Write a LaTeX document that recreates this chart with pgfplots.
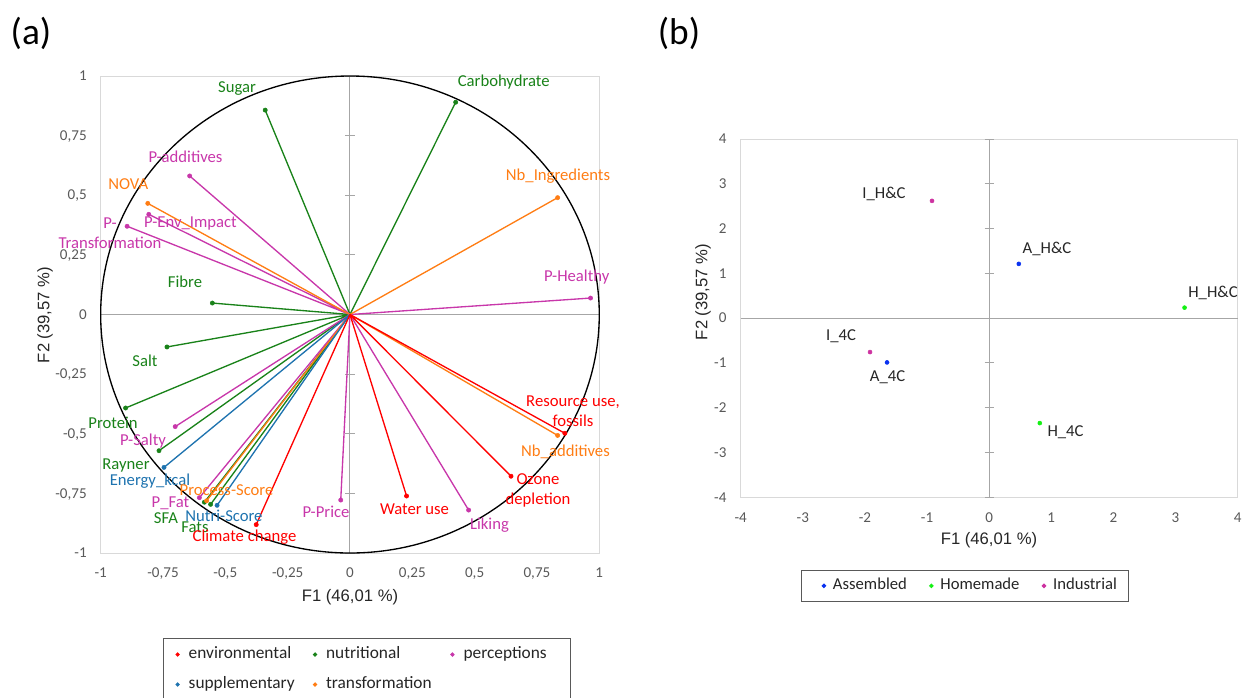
\documentclass[border=0pt]{standalone}
\usepackage{pgfplots}
\pgfplotsset{compat=1.18}
\usepackage{fontspec}
\setmainfont{Carlito}
\newfontfamily\arialf{Liberation Sans}
\definecolor{envc}{RGB}{255,0,0}
\definecolor{nutc}{RGB}{25,130,25}
\definecolor{perc}{RGB}{200,55,170}
\definecolor{supc}{RGB}{30,115,175}
\definecolor{trac}{RGB}{255,125,20}
\definecolor{asmc}{RGB}{10,50,240}
\definecolor{homc}{RGB}{20,240,20}
\definecolor{indc}{RGB}{205,50,160}
\definecolor{tickc}{RGB}{89,89,89}
\newcommand{\tkfont}{\fontsize{11.3}{13}\selectfont}
\newcommand{\lbfont}{\fontsize{12.5}{14.6}\selectfont}
\newcommand{\lgfont}{\fontsize{13}{15}\selectfont}
\newcommand{\lgfontb}{\fontsize{12.5}{15}\selectfont}
\newcommand{\ttfont}{\arialf\fontsize{12.5}{15}\selectfont}
\newcommand{\lab}[4]{\node[text=#3, font=\lbfont, align=center, inner sep=0pt] at ({#1*0.75pt},{-#2*0.75pt}) {#4};}
\begin{document}
\begin{tikzpicture}
\useasboundingbox (0,0) rectangle (932.25pt,-522.75pt);
% ---------------- panel (a)
\begin{axis}[
  at={(75.5pt,-414.75pt)}, anchor=south west,
  width=373.95pt, height=357.75pt, scale only axis,
  xmin=-1, xmax=1, ymin=-1, ymax=1,
  clip=false,
  axis line style={draw=gray!30, line width=0.75pt},
  xtick={-1,-0.75,-0.5,-0.25,0,0.25,0.5,0.75,1},
  ytick={-1,-0.75,-0.5,-0.25,0,0.25,0.5,0.75,1},
  xticklabels={-1,{-0,75},{-0,5},{-0,25},0,{0,25},{0,5},{0,75},1},
  yticklabels={-1,{-0,75},{-0,5},{-0,25},0,{0,25},{0,5},{0,75},1},
  major tick length=0pt,
  tick label style={font=\tkfont, text=tickc},
  xticklabel style={anchor=north, inner sep=0pt, yshift=-11.4pt, text height=7pt, text depth=0pt},
  yticklabel style={anchor=east, inner sep=0pt, xshift=-10.3pt, text height=7pt, text depth=0pt},
  legend columns=3,
  legend cell align=left,
  legend image code/.code={\path (0pt,0pt) (11.9pt,0pt); \fill (5.95pt,0pt) circle (1.2pt);},
  legend style={at={(0.1243,-0.1788)}, anchor=north west, draw=black!65, line width=0.75pt,
    inner xsep=4.55pt, inner ysep=3.8pt, font=\lgfont, text=black!85, column sep=0pt, row sep=6.5pt,
    nodes={inner sep=2pt, text height=9pt, text depth=3pt},
    /tikz/column 2/.style={text width=86.4pt},
    /tikz/column 4/.style={text width=86.4pt},
    /tikz/column 6/.style={text width=74pt}},
]
\draw[gray!70, line width=0.75pt] (axis cs:-1,0) -- (axis cs:1,0);
\draw[gray!70, line width=0.75pt] (axis cs:0,-1) -- (axis cs:0,1);
\pgfplotsinvokeforeach{-1,-0.75,-0.5,-0.25,0.25,0.5,0.75,1}{
  \draw[gray!70, line width=0.75pt] ([xshift=-3.5pt]axis cs:0,#1) -- ([xshift=3.5pt]axis cs:0,#1);
}
\draw[black, line width=1pt] (axis cs:0,0) ellipse [x radius=1, y radius=1];
% vectors
\addplot[nutc, line width=1pt, forget plot, unbounded coords=jump] coordinates {
 (0,0) (-0.340,0.857) (nan,nan) (0,0) (0.424,0.890) (nan,nan) (0,0) (-0.552,0.048) (nan,nan)
 (0,0) (-0.734,-0.136) (nan,nan) (0,0) (-0.900,-0.392) (nan,nan) (0,0) (-0.766,-0.571) (nan,nan)
 (0,0) (-0.584,-0.787) (nan,nan) (0,0) (-0.559,-0.796)};
\addplot[perc, line width=1pt, forget plot, unbounded coords=jump] coordinates {
 (0,0) (-0.643,0.581) (nan,nan) (0,0) (-0.807,0.420) (nan,nan) (0,0) (-0.894,0.370) (nan,nan)
 (0,0) (0.965,0.069) (nan,nan) (0,0) (-0.701,-0.470) (nan,nan) (0,0) (-0.604,-0.768) (nan,nan)
 (0,0) (-0.037,-0.778) (nan,nan) (0,0) (0.476,-0.820)};
\addplot[trac, line width=1pt, forget plot, unbounded coords=jump] coordinates {
 (0,0) (-0.811,0.466) (nan,nan) (0,0) (0.833,0.490) (nan,nan) (0,0) (0.833,-0.507) (nan,nan)
 (0,0) (-0.575,-0.781)};
\addplot[supc, line width=1pt, forget plot, unbounded coords=jump] coordinates {
 (0,0) (-0.746,-0.641) (nan,nan) (0,0) (-0.533,-0.800)};
\addplot[envc, line width=1pt, forget plot, unbounded coords=jump] coordinates {
 (0,0) (-0.376,-0.881) (nan,nan) (0,0) (0.227,-0.761) (nan,nan) (0,0) (0.646,-0.678) (nan,nan)
 (0,0) (0.862,-0.498)};
% end points
\addplot[envc, only marks, mark=*, mark size=1.6pt] coordinates {
 (-0.376,-0.881) (0.227,-0.761) (0.646,-0.678) (0.862,-0.498)};
\addlegendentry{environmental}
\addplot[nutc, only marks, mark=*, mark size=1.6pt] coordinates {
 (-0.340,0.857) (0.424,0.890) (-0.552,0.048) (-0.734,-0.136) (-0.900,-0.392) (-0.766,-0.571)
 (-0.584,-0.787) (-0.559,-0.796)};
\addlegendentry{nutritional}
\addplot[perc, only marks, mark=*, mark size=1.6pt] coordinates {
 (-0.643,0.581) (-0.807,0.420) (-0.894,0.370) (0.965,0.069) (-0.701,-0.470) (-0.604,-0.768)
 (-0.037,-0.778) (0.476,-0.820)};
\addlegendentry{perceptions}
\addplot[supc, only marks, mark=*, mark size=1.6pt] coordinates {
 (-0.746,-0.641) (-0.533,-0.800)};
\addlegendentry{supplementary}
\addplot[trac, only marks, mark=*, mark size=1.6pt] coordinates {
 (-0.811,0.466) (0.833,0.490) (0.833,-0.507) (-0.575,-0.781)};
\addlegendentry{transformation}
\end{axis}
% ---------------- panel (b)
\begin{axis}[
  at={(555.5pt,-373pt)}, anchor=south west,
  width=372.75pt, height=268.7pt, scale only axis,
  xmin=-4, xmax=4, ymin=-4, ymax=4,
  clip=false,
  axis line style={draw=gray!30, line width=0.75pt},
  xtick={-4,-3,-2,-1,0,1,2,3,4},
  ytick={-4,-3,-2,-1,0,1,2,3,4},
  xticklabels={-4,-3,-2,-1,0,1,2,3,4},
  yticklabels={-4,-3,-2,-1,0,1,2,3,4},
  major tick length=0pt,
  tick label style={font=\tkfont, text=tickc},
  xticklabel style={anchor=north, inner sep=0pt, yshift=-11.4pt, text height=7pt, text depth=0pt},
  yticklabel style={anchor=east, inner sep=0pt, xshift=-10.5pt, text height=7pt, text depth=0pt},
  legend columns=3,
  legend cell align=left,
  legend image code/.code={\path (0pt,0pt) (14.1pt,0pt); \fill (9.7pt,0pt) circle (1.3pt);},
  legend style={at={(0.1207,-0.2029)}, anchor=north west, draw=black!65, line width=0.75pt,
    inner xsep=7pt, inner ysep=3.5pt, font=\lgfontb, text=black!85, column sep=0pt,
    nodes={inner sep=2pt, text height=9pt, text depth=3pt},
    /tikz/every even column/.append style={column sep=6.3pt}},
]
\draw[gray!70, line width=0.75pt] (axis cs:-4,0) -- (axis cs:4,0);
\draw[gray!70, line width=0.75pt] (axis cs:0,-4) -- (axis cs:0,4);
\pgfplotsinvokeforeach{-4,-3,-2,-1,1,2,3,4}{
  \draw[gray!70, line width=0.75pt] ([xshift=-3.5pt]axis cs:0,#1) -- ([xshift=3.5pt]axis cs:0,#1);
}
\addplot[asmc, only marks, mark=*, mark size=1.5pt] coordinates {(0.477,1.213) (-1.644,-0.987)};
\addlegendentry{Assembled}
\addplot[homc, only marks, mark=*, mark size=1.5pt] coordinates {(3.145,0.236) (0.815,-2.342)};
\addlegendentry{Homemade}
\addplot[indc, only marks, mark=*, mark size=1.5pt] coordinates {(-0.920,2.620) (-1.918,-0.756)};
\addlegendentry{Industrial}
\end{axis}
% ---------------- titles
\node[font=\fontsize{28}{32}\selectfont, inner sep=0pt] at (23.25pt,-24.75pt) {(a)};
\node[font=\fontsize{28}{32}\selectfont, inner sep=0pt] at (509.25pt,-24.75pt) {(b)};
\node[font=\ttfont, text=black!85, inner sep=0pt] at (262.5pt,-447.75pt) {F1 (46,01 \%)};
\node[font=\ttfont, text=black!85, inner sep=0pt, rotate=90] at (33.75pt,-236.25pt) {F2 (39,57 \%)};
\node[font=\ttfont, text=black!85, inner sep=0pt] at (741.75pt,-405pt) {F1 (46,01 \%)};
\node[font=\ttfont, text=black!85, inner sep=0pt, rotate=90] at (527.25pt,-219pt) {F2 (39,57 \%)};
% ---------------- labels (a)
\lab{237}{89}{nutc}{Sugar}
\lab{503.7}{82}{nutc}{Carbohydrate}
\lab{558}{176}{trac}{Nb\_Ingredients}
\lab{576.7}{277}{perc}{P-Healthy}
\lab{185.5}{157}{perc}{P-additives}
\lab{128.3}{184}{trac}{NOVA}
\lab{190.5}{223}{perc}{P-Env\_Impact}
\lab{110}{233}{perc}{P-\\Transformation}
\lab{185}{282}{nutc}{Fibre}
\lab{145}{361}{nutc}{Salt}
\lab{113}{423}{nutc}{Protein}
\lab{143}{441}{perc}{P-Salty}
\lab{126}{465}{nutc}{Rayner}
\lab{150}{481}{supc}{Energy\_kcal}
\lab{226.5}{490}{trac}{Process-Score}
\lab{170.5}{503}{perc}{P\_Fat}
\lab{166}{518}{nutc}{SFA}
\lab{224}{516}{supc}{Nutri-Score}
\lab{195}{527}{nutc}{Fats}
\lab{244.5}{537}{envc}{Climate change}
\lab{326}{512}{perc}{P-Price}
\lab{414.5}{509}{envc}{Water use}
\lab{489.5}{525}{perc}{Liking}
\lab{538}{490.5}{envc}{Ozone\\depletion}
\lab{565.5}{452}{trac}{Nb\_additives}
\lab{573}{411}{envc}{Resource use,\\fossils}
% ---------------- labels (b)
\lab{884}{194}{black!85}{I\_H\&C}
\lab{1047}{249}{black!85}{A\_H\&C}
\lab{1213}{293}{black!85}{H\_H\&C}
\lab{841}{336}{black!85}{I\_4C}
\lab{887.5}{377}{black!85}{A\_4C}
\lab{1065.5}{432}{black!85}{H\_4C}
\end{tikzpicture}
\end{document}
